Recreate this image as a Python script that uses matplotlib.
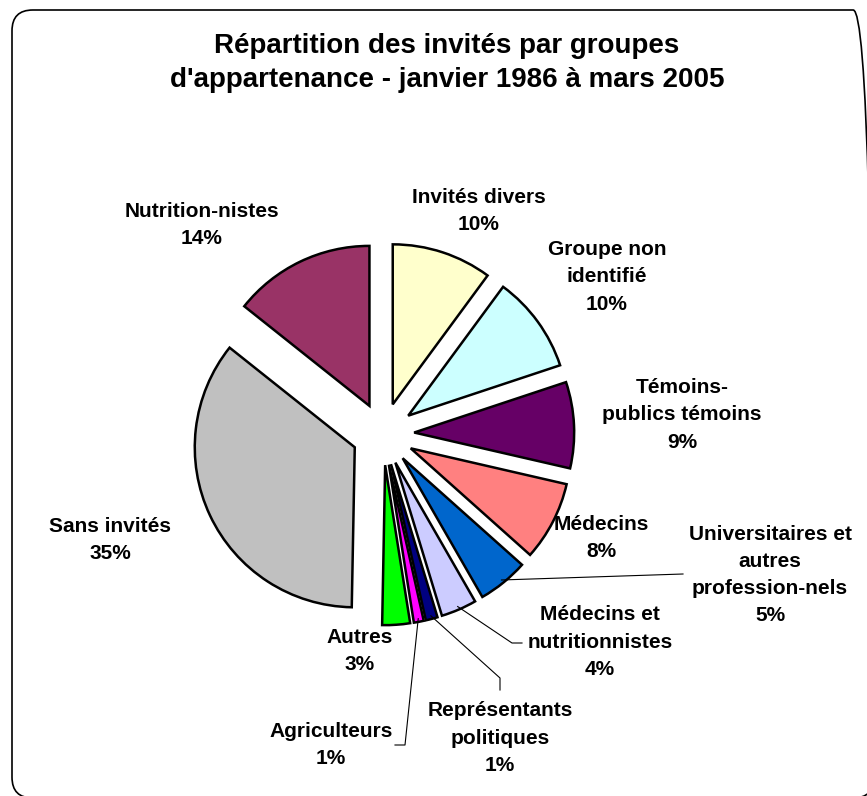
import numpy as np
import matplotlib
matplotlib.use("Agg")
import matplotlib.pyplot as plt
from matplotlib.patches import FancyBboxPatch

# ---------------- data ----------------
categories = ["Invités divers", "Groupe non\nidentifié", "Témoins-\npublics témoins",
              "Médecins", "Universitaires et\nautres\nprofession-nels",
              "Médecins et\nnutritionnistes", "Représentants\npolitiques",
              "Agriculteurs", "Autres", "Sans invités", "Nutrition-nistes"]
values = [10.1, 9.8, 8.7, 8.0, 5.1, 3.6, 1.2, 1.0, 2.8, 35.4, 14.3]
colors = ["#FFFFCC", "#CCFFFF", "#660066", "#FF8080", "#0066CC", "#CCCCFF",
          "#000080", "#FF00FF", "#00FF00", "#C0C0C0", "#993366"]
title = "Répartition des invités par groupes\nd'appartenance - janvier 1986 à mars 2005"

# ---------------- layout (pixels) ----------------
W, H, DPI = 867, 796, 100
CX, CY, R = 383, 434, 160          # pie centre / radius in pixels
label_pos = [(479, 211), (607, 277), (682, 415), (601, 538), (770, 575),
             (600, 642), (500, 738), (331, 745), (360, 651), (110, 540), (202, 225)]
# leader lines: index -> list of pixel points from label side (after the slice anchor)
leaders = {4: [(683, 574)],
           5: [(512, 643), (522, 643)],
           6: [(500, 678), (500, 690)],
           7: [(405, 745), (395, 745)]}

def P(px, py):
    return ((px - CX) / R, (CY - py) / R)

plt.rcParams['font.family'] = ['Liberation Sans', 'DejaVu Sans']

fig = plt.figure(figsize=(W / DPI, H / DPI), dpi=DPI)
ax = fig.add_axes([0, 0, 1, 1])
ax.axis('off')

wedges, _ = ax.pie(values, colors=colors, startangle=90, counterclock=False,
                   explode=[0.195] * len(values), radius=1.0, center=(0, 0),
                   wedgeprops=dict(edgecolor='black', linewidth=1.8))
ax.set_xlim(-CX / R, (W - CX) / R)
ax.set_ylim(-(H - CY) / R, CY / R)
ax.set_aspect('auto')

for i, (cat, v) in enumerate(zip(categories, values)):
    x, y = P(*label_pos[i])
    ax.text(x, y, f"{cat}\n{round(v):.0f}%", ha='center', va='center',
            fontsize=15, fontweight='bold', linespacing=1.55)

for i, pts in leaders.items():
    w = wedges[i]
    mid = np.deg2rad((w.theta1 + w.theta2) / 2)
    cx, cy = w.center
    ax_pt = (cx + 0.98 * w.r * np.cos(mid), cy + 0.98 * w.r * np.sin(mid))
    xs = [ax_pt[0]] + [P(*p)[0] for p in pts]
    ys = [ax_pt[1]] + [P(*p)[1] for p in pts]
    ax.plot(xs, ys, color='black', linewidth=0.8)

# rounded border
x0, y0 = P(12, 798)
x1, y1 = P(874, 10)
ax.add_patch(FancyBboxPatch((x0, y0), x1 - x0, y1 - y0,
                            boxstyle="round,pad=0,rounding_size=0.13",
                            fill=False, edgecolor='black', linewidth=1.2,
                            clip_on=False))

tx, ty = P(447, 63)
ax.text(tx, ty, title, ha='center', va='center', fontsize=20,
        fontweight='bold', linespacing=1.42)

fig.savefig("out.png", dpi=DPI)
